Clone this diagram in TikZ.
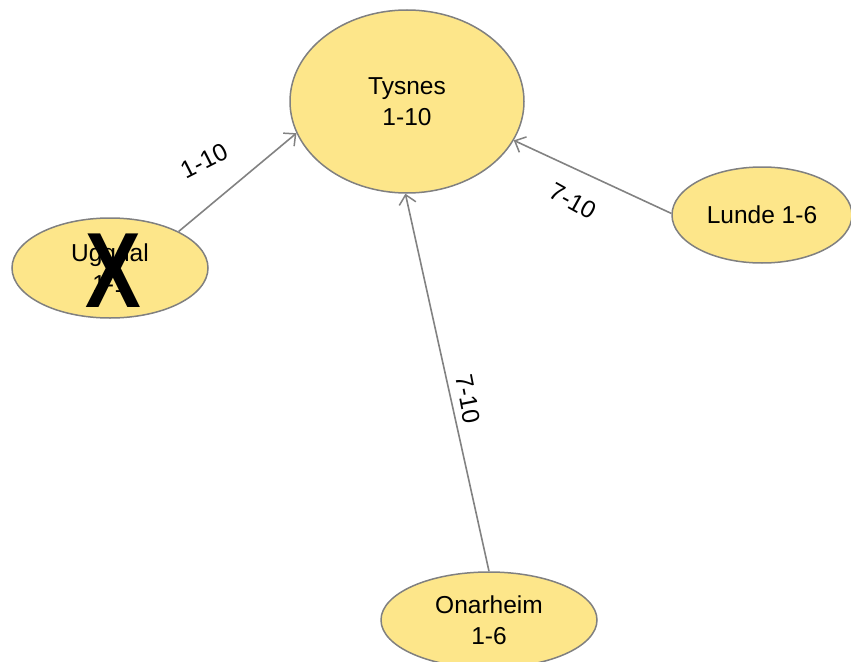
\documentclass[tikz,border=0pt]{standalone}
\usepackage{fontspec}
\setmainfont{Liberation Sans}
\usepackage{xcolor}
\usetikzlibrary{shapes, arrows, arrows.meta, positioning, calc}

\definecolor{placefill}{RGB}{253,230,138}
\definecolor{placeedge}{RGB}{128,128,128}
\definecolor{linkgray}{RGB}{130,130,130}

\tikzset{
  place/.style={draw=placeedge, line width=1.5pt, fill=placefill, ellipse, inner sep=0pt, align=center, font=\fontsize{24.5}{30.5}\selectfont},
  link/.style={-{Straight Barb[length=9pt, width=17pt, line width=1.5pt]}, draw=linkgray, line width=1.6pt},
  linklabel/.style={font=\fontsize{24.5}{30.5}\selectfont, inner sep=0pt}
}

\begin{document}
\begin{tikzpicture}[x=1pt, y=-1pt]
\useasboundingbox (0,0) rectangle (851,661);

\node[place, minimum width=234pt, minimum height=183pt] (tysnes) at (407,101.5) {Tysnes\\1-10};
\node[place, minimum width=196pt, minimum height=100pt] (uggdal) at (110,268) {Uggdal\\1-1};
\node[place, minimum width=180pt, minimum height=96pt] (lunde) at (762,215) {Lunde 1-6};
\node[place, minimum width=216pt, minimum height=96pt] (onarheim) at (489,620) {Onarheim\\1-6};

% crossed out
\node[font=\bfseries\fontsize{107}{107}\selectfont, xscale=0.78, inner sep=0pt] (cross) at (113,271) {X};

\draw[link] (uggdal.28) -- (tysnes.196);
\draw[link] (lunde.179) -- (tysnes.340);
\draw[link] (onarheim.90) -- (tysnes.269);

\node[linklabel, rotate=27] (lblugg) at (204,161) {1-10};
\node[linklabel, rotate=-29] (lbllunde) at (573,201) {7-10};
\node[linklabel, rotate=-79] (lblonar) at (468,399) {7-10};
\end{tikzpicture}
\end{document}
